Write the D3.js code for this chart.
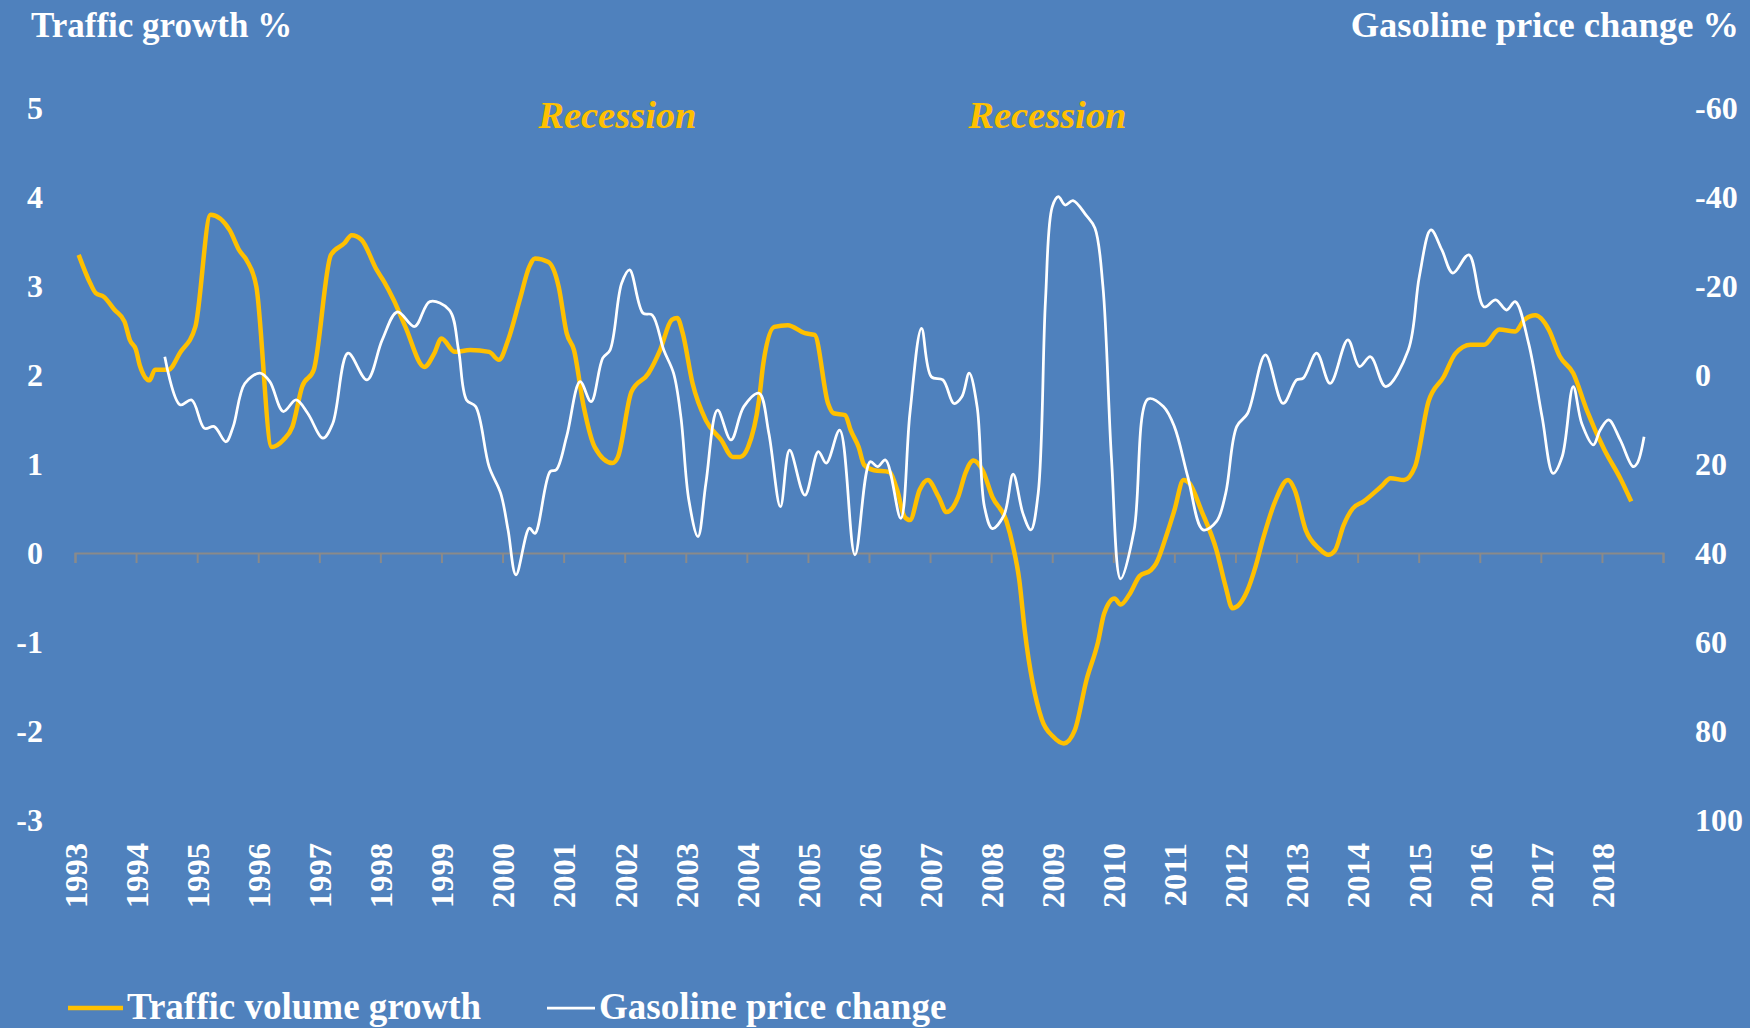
<!DOCTYPE html>
<html>
<head>
<meta charset="utf-8">
<script src="https://cdn.jsdelivr.net/npm/d3@7"></script>
<style>
  body { margin: 0; background: #4F81BD; }
  svg text { font-family: "Liberation Serif", "Times New Roman", serif; fill: #fff; }
</style>
</head>
<body>
<svg width="1750" height="1028"></svg>
<script>
// Traffic volume growth (%, left axis), decimal year / value
const trafficYears = [1993.06,1993.25,1993.34,1993.47,1993.65,1993.81,1993.90,1994.00,1994.06,1994.22,1994.31,1994.53,1994.72,1994.97,1995.22,1995.53,1995.69,1995.81,1995.97,1996.22,1996.41,1996.56,1996.72,1996.91,1997.19,1997.41,1997.53,1997.69,1997.94,1998.06,1998.22,1998.41,1998.72,1998.88,1999.00,1999.22,1999.47,1999.78,1999.94,2000.09,2000.28,2000.44,2000.53,2000.75,2000.92,2001.05,2001.17,2001.33,2001.51,2001.80,2001.89,2002.11,2002.39,2002.58,2002.77,2002.86,2002.95,2003.11,2003.33,2003.58,2003.77,2003.89,2004.02,2004.20,2004.27,2004.45,2004.67,2004.95,2005.11,2005.33,2005.42,2005.61,2005.70,2005.83,2005.92,2006.08,2006.33,2006.46,2006.58,2006.67,2006.83,2006.96,2007.14,2007.27,2007.46,2007.58,2007.71,2007.86,2008.02,2008.25,2008.36,2008.46,2008.55,2008.83,2009.01,2009.19,2009.37,2009.56,2009.75,2009.85,2010.02,2010.12,2010.26,2010.43,2010.62,2010.70,2010.88,2011.00,2011.15,2011.25,2011.44,2011.69,2011.84,2011.95,2012.19,2012.33,2012.46,2012.65,2012.86,2012.97,2013.15,2013.37,2013.52,2013.63,2013.77,2013.92,2014.10,2014.39,2014.54,2014.76,2014.94,2015.16,2015.41,2015.60,2015.85,2016.07,2016.32,2016.58,2016.73,2016.91,2017.13,2017.31,2017.53,2017.75,2018.04,2018.30,2018.48];
const trafficValues = [3.35,3.03,2.92,2.88,2.73,2.60,2.39,2.28,2.11,1.94,2.06,2.06,2.25,2.54,3.80,3.63,3.40,3.29,2.99,1.19,1.27,1.42,1.87,2.06,3.35,3.48,3.57,3.52,3.18,3.05,2.84,2.54,2.09,2.24,2.41,2.26,2.28,2.26,2.17,2.39,2.84,3.22,3.31,3.27,2.99,2.47,2.28,1.64,1.19,1.01,1.08,1.81,2.02,2.28,2.62,2.64,2.47,1.91,1.49,1.27,1.08,1.08,1.19,1.72,2.13,2.54,2.56,2.47,2.45,1.68,1.57,1.55,1.38,1.19,0.99,0.93,0.91,0.71,0.41,0.37,0.71,0.82,0.63,0.46,0.63,0.90,1.04,0.93,0.63,0.36,0.07,-0.30,-0.87,-1.87,-2.06,-2.14,-1.99,-1.43,-1.00,-0.68,-0.51,-0.58,-0.47,-0.26,-0.19,-0.12,0.22,0.48,0.82,0.78,0.48,0.03,-0.38,-0.62,-0.43,-0.15,0.18,0.58,0.82,0.71,0.26,0.05,-0.02,0.03,0.31,0.50,0.58,0.75,0.84,0.82,0.97,1.70,1.98,2.24,2.34,2.34,2.51,2.49,2.62,2.67,2.51,2.21,2.02,1.61,1.16,0.84,0.58];

// Gasoline price change (%, right axis, inverted)
const gasYears = [1994.47,1994.72,1994.91,1995.12,1995.28,1995.47,1995.59,1995.78,1996.03,1996.19,1996.41,1996.62,1996.81,1997.06,1997.22,1997.47,1997.78,1998.03,1998.28,1998.56,1998.81,1999.13,1999.28,1999.41,1999.56,1999.78,1999.97,2000.09,2000.22,2000.44,2000.53,2000.78,2000.88,2001.05,2001.27,2001.45,2001.64,2001.76,2001.95,2002.08,2002.30,2002.45,2002.64,2002.80,2002.92,2003.05,2003.20,2003.33,2003.52,2003.74,2003.95,2004.20,2004.36,2004.55,2004.70,2004.95,2005.17,2005.30,2005.52,2005.77,2006.02,2006.14,2006.27,2006.52,2006.67,2006.86,2007.02,2007.21,2007.39,2007.52,2007.64,2007.77,2007.89,2008.02,2008.21,2008.36,2008.52,2008.65,2008.77,2008.89,2009.00,2009.10,2009.21,2009.34,2009.56,2009.70,2009.83,2009.97,2010.12,2010.34,2010.57,2010.82,2011.00,2011.22,2011.47,2011.69,2011.84,2012.02,2012.20,2012.49,2012.78,2013.00,2013.11,2013.33,2013.55,2013.84,2014.03,2014.21,2014.46,2014.83,2015.01,2015.20,2015.38,2015.56,2015.82,2016.07,2016.26,2016.44,2016.58,2016.80,2017.02,2017.20,2017.35,2017.53,2017.67,2017.86,2017.97,2018.11,2018.30,2018.51,2018.58,2018.69];
const gasValues = [-4.1,6.7,5.6,12.0,11.6,15.0,11.6,1.9,-0.4,1.5,8.2,5.6,8.6,14.2,10.9,-4.9,1.1,-7.9,-14.2,-10.9,-16.5,-14.6,-5.6,5.6,7.1,20.6,26.6,34.8,44.9,34.4,35.6,21.7,21.3,13.8,1.5,6.0,-3.8,-5.6,-20.6,-23.6,-13.9,-13.5,-5.6,-0.4,9.4,28.1,36.3,24.3,7.9,14.6,7.1,4.1,13.1,29.6,16.9,27.0,17.2,19.8,12.4,40.4,19.5,20.6,19.1,32.2,8.6,-10.5,0.4,1.1,6.4,4.9,-0.4,7.1,29.6,34.5,31.5,22.3,31.1,34.8,26.6,-16.9,-37.8,-40.1,-38.2,-39.2,-35.8,-33.0,-19.9,18.7,45.8,34.9,5.4,7.1,11.6,22.9,34.8,32.9,26.6,11.6,8.6,-4.5,6.4,1.1,0.7,-4.9,1.9,-7.9,-1.9,-4.1,2.6,-5.6,-22.1,-32.6,-28.1,-22.9,-27.0,-15.3,-16.9,-14.6,-16.5,-7.1,9.4,22.1,18.3,2.6,10.9,15.7,12.4,10.1,14.6,20.6,19.8,13.9];

const yearTicks = d3.range(1993, 2020);
const leftTicks = [-3, -2, -1, 0, 1, 2, 3, 4, 5];
const rightTicks = [-60, -40, -20, 0, 20, 40, 60, 80, 100];
const recessions = [{label: "Recession", year: 2001.88}, {label: "Recession", year: 2008.92}];

const svg = d3.select("svg");

const x = d3.scaleLinear().domain([1993, 2019]).range([75, 1663]);
const yL = d3.scaleLinear().domain([-3, 5]).range([820, 108]);
const yR = d3.scaleLinear().domain([-60, 100]).range([108, 820]);

// background
svg.append("rect").attr("width", 1750).attr("height", 1028).attr("fill", "#4F81BD");

// axis titles
svg.append("text").attr("x", 31).attr("y", 37)
  .style("font-size", "35px").style("font-weight", "bold")
  .text("Traffic growth %");
svg.append("text").attr("x", 1739).attr("y", 37).attr("text-anchor", "end")
  .style("font-size", "36.5px").style("font-weight", "bold")
  .text("Gasoline price change %");

// plain hyphen for negatives, like the original
const plain = d => String(d);

// left axis labels
const gl = svg.append("g").attr("transform", "translate(43,0)")
  .call(d3.axisLeft(yL).tickValues(leftTicks).tickSize(0).tickPadding(0).tickFormat(plain));
// right axis labels
const gr = svg.append("g").attr("transform", "translate(1695,0)")
  .call(d3.axisRight(yR).tickValues(rightTicks).tickSize(0).tickPadding(0).tickFormat(plain));
[gl, gr].forEach(g => {
  g.select(".domain").remove();
  g.selectAll("text").attr("fill", "#fff")
    .style("font-family", '"Liberation Serif", serif')
    .style("font-size", "32px").style("font-weight", "bold");
});

// x axis line + ticks at zero
const gx = svg.append("g").attr("transform", `translate(0,${yL(0)})`)
  .call(d3.axisBottom(x).tickValues(yearTicks).tickSize(10).tickFormat(""));
gx.select(".domain").attr("stroke", "#8a8a8a").attr("stroke-width", 2);
gx.selectAll(".tick line").attr("stroke", "#8a8a8a").attr("stroke-width", 2);

// x labels, rotated
const gxl = svg.append("g").attr("transform", "translate(0,843)")
  .call(d3.axisBottom(x).tickValues(yearTicks.slice(0, -1)).tickSize(0).tickFormat(plain));
gxl.select(".domain").remove();
gxl.selectAll("text")
  .attr("fill", "#fff")
  .attr("y", 0).attr("x", 0).attr("dy", "0.35em")
  .attr("text-anchor", "end")
  .attr("transform", "rotate(-90)")
  .style("font-family", '"Liberation Serif", serif')
  .style("font-size", "32.5px").style("font-weight", "bold");

// recession labels
svg.selectAll(".rec").data(recessions).join("text")
  .attr("class", "rec")
  .attr("x", d => x(d.year)).attr("y", 128)
  .attr("text-anchor", "middle")
  .style("fill", "#FFC000").style("font-size", "38.5px")
  .style("font-weight", "bold").style("font-style", "italic")
  .text(d => d.label);

// lines
const trafficLine = d3.line()
  .x((d, i) => x(trafficYears[i]))
  .y(d => yL(d))
  .curve(d3.curveMonotoneX);
const gasLine = d3.line()
  .x((d, i) => x(gasYears[i]))
  .y(d => yR(d))
  .curve(d3.curveCatmullRom.alpha(0.5));

svg.append("path").datum(trafficValues)
  .attr("d", trafficLine)
  .attr("fill", "none").attr("stroke", "#FFC000")
  .attr("stroke-width", 4.5).attr("stroke-linejoin", "round");
svg.append("path").datum(gasValues)
  .attr("d", gasLine)
  .attr("fill", "none").attr("stroke", "#fff")
  .attr("stroke-width", 2.75).attr("stroke-linejoin", "round");

// legend
const legend = [
  {name: "Traffic volume growth", color: "#FFC000", width: 4.5, x1: 68, x2: 123},
  {name: "Gasoline price change", color: "#fff", width: 2.75, x1: 547, x2: 595}
];
const lg = svg.append("g");
legend.forEach(d => {
  lg.append("line").attr("x1", d.x1).attr("x2", d.x2).attr("y1", 1008).attr("y2", 1008)
    .attr("stroke", d.color).attr("stroke-width", d.width);
  lg.append("text").attr("x", d.x2 + 4).attr("y", 1019)
    .style("font-size", "37px").style("font-weight", "bold")
    .text(d.name);
});
</script>
</body>
</html>
